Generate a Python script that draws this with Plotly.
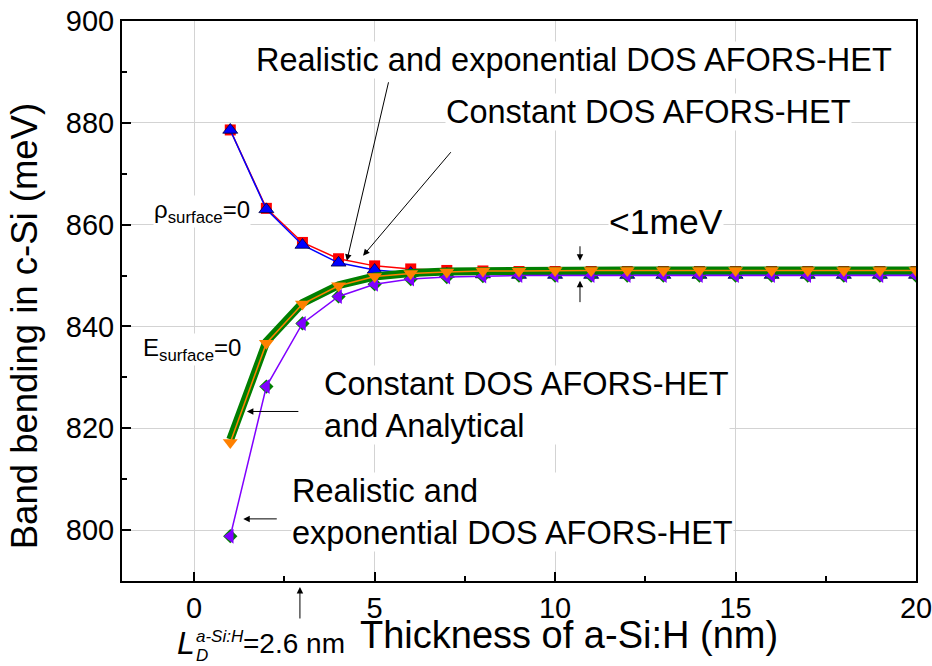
import plotly.graph_objects as go

# ---------------- data ----------------
thickness = [1, 2, 3, 4, 5, 6, 7, 8, 9, 10, 11, 12, 13, 14, 15, 16, 17, 18, 19, 20]

rho_realistic = [878.6, 863.2, 856.5, 853.3, 851.9, 851.3, 851.0, 850.9, 850.8, 850.8,
                 850.8, 850.8, 850.8, 850.8, 850.8, 850.8, 850.8, 850.8, 850.8, 850.8]
rho_constant = [878.6, 863.0, 856.0, 852.5, 851.1, 850.5, 850.3, 850.2, 850.1, 850.1,
                850.1, 850.1, 850.1, 850.1, 850.1, 850.1, 850.1, 850.1, 850.1, 850.1]
e_analytical = [817.8, 837.0, 844.6, 848.1, 849.8, 850.5, 850.8, 850.9, 851.0, 851.0,
                851.0, 851.0, 851.0, 851.0, 851.0, 851.0, 851.0, 851.0, 851.0, 851.0]
e_constant = [817.2, 836.7, 844.4, 848.0, 849.8, 850.4, 850.7, 850.9, 850.9, 851.0,
              851.0, 851.0, 851.0, 851.0, 851.0, 851.0, 851.0, 851.0, 851.0, 851.0]
e_realistic = [798.8, 828.2, 840.6, 845.9, 848.3, 849.3, 849.7, 849.9, 850.0, 850.0,
               850.0, 850.0, 850.0, 850.0, 850.0, 850.0, 850.0, 850.0, 850.0, 850.0]

x_ticks = [0, 5, 10, 15, 20]
y_ticks = [800, 820, 840, 860, 880, 900]

FONT = "Arial, Liberation Sans, sans-serif"

fig = go.Figure()

# rho_surface = 0 curves
fig.add_trace(go.Scatter(x=thickness, y=rho_realistic, mode="lines+markers",
                         line=dict(color="#ff0000", width=1.5),
                         marker=dict(symbol="square", size=11, color="#ff0000"),
                         showlegend=False))
fig.add_trace(go.Scatter(x=thickness, y=rho_constant, mode="lines+markers",
                         line=dict(color="#0000ff", width=1.5),
                         marker=dict(symbol="triangle-up", size=13, color="#0000ff",
                                     line=dict(color="#000040", width=0.8)),
                         showlegend=False))
# E_surface = 0 curves
fig.add_trace(go.Scatter(x=thickness, y=e_analytical, mode="lines",
                         line=dict(color="#007f00", width=8),
                         showlegend=False))
fig.add_trace(go.Scatter(x=thickness, y=e_realistic, mode="markers",
                         marker=dict(symbol="diamond", size=11, color="#008000"),
                         showlegend=False))
fig.add_trace(go.Scatter(x=thickness, y=e_realistic, mode="lines+markers",
                         line=dict(color="#8000ff", width=1.5),
                         marker=dict(symbol="triangle-left", size=13, color="#8000ff"),
                         showlegend=False))
fig.add_trace(go.Scatter(x=thickness, y=e_constant, mode="lines+markers",
                         line=dict(color="#ff8000", width=1.5),
                         marker=dict(symbol="triangle-down", size=13, color="#ff8000"),
                         showlegend=False))

ann = []

def text(x, y, t, size, xanchor="center", yanchor="middle", xref="x", yref="y", bg="white", align="center"):
    ann.append(dict(x=x, y=y, xref=xref, yref=yref, text=t, showarrow=False,
                    font=dict(family=FONT, size=size, color="black"),
                    xanchor=xanchor, yanchor=yanchor, bgcolor=bg, align=align,
                    borderpad=0))
    return ann[-1]

def arrow(x, y, ax, ay, xref="x", yref="y"):
    ann.append(dict(x=x, y=y, xref=xref, yref=yref, text="", showarrow=True,
                    ax=ax, ay=ay, arrowhead=2, arrowsize=1.3, arrowwidth=1,
                    arrowcolor="black", standoff=0, startstandoff=0))

text(10.53, 892.3, "Realistic and exponential DOS AFORS-HET", 32.5)
text(12.58, 882.2, "Constant DOS AFORS-HET", 32.5)
text(13.07, 860.6, "&lt;1meV", 35.5)
text(-1.14, 862.5, "ρ<sub>surface</sub>=0", 24, xanchor="left")
text(-1.44, 835.5, "E<sub>surface</sub>=0", 24, xanchor="left")
text(3.57, 824.5, "Constant DOS AFORS-HET<br>and Analytical", 32.5, xanchor="left", align="left")
text(2.69, 803.6, "Realistic and<br>exponential DOS AFORS-HET", 32.5, xanchor="left", align="left")

arrow(4.23, 852.9, 42, -180)
arrow(4.68, 853.9, 89, -105)
arrow(1.46, 823.3, 53, 0)
arrow(1.36, 802.2, 35, 0)
arrow(10.69, 852.9, 0, -16)
arrow(10.69, 849.0, 0, 23)
arrow(2.93, -0.0107, 0, 33, yref="paper")

# L_D^{a-Si:H} = 2.6 nm label (below the axis)
text(-0.22, -0.110, "<i>L</i>", 32, yref="paper", bg=None)
text(0.03, -0.099, "<i>a-Si:H</i>", 17, xanchor="left", yref="paper", bg=None)
text(0.03, -0.133, "<i>D</i>", 17, xanchor="left", yref="paper", bg=None)
text(1.33, -0.111, "=2.6 nm", 28, xanchor="left", yref="paper", bg=None)

# axis titles
a = text(-0.1234, 0.455, "Band bending in c-Si (meV)", 36.5, xref="paper", yref="paper", bg=None)
a["textangle"] = -90
text(0.563, -0.096, "Thickness of a-Si:H (nm)", 38, xref="paper", yref="paper", bg=None)

fig.update_layout(
    width=932, height=666,
    margin=dict(l=122, r=16, t=21, b=85),
    paper_bgcolor="white", plot_bgcolor="white",
    font=dict(family=FONT, size=29, color="black"),
    annotations=ann,
    showlegend=False,
)
common = dict(ticks="inside", ticklen=9, tickwidth=1.5, tickcolor="black",
              showline=True, linecolor="black", linewidth=2, mirror=True,
              showgrid=True, gridcolor="#d3d3d3", gridwidth=1, zeroline=False,
              automargin=False, tickfont=dict(size=29), ticklabeloverflow="allow")
fig.update_xaxes(range=[-2, 20], tickvals=x_ticks,
                 minor=dict(ticks="inside", ticklen=5, tickwidth=1.5, tickcolor="black", dtick=2.5,
                            showgrid=False, tick0=0), **common)
fig.update_yaxes(range=[790, 900], tickvals=y_ticks,
                 minor=dict(ticks="inside", ticklen=5, tickwidth=1.5, tickcolor="black", dtick=10,
                            showgrid=False, tick0=800), **common)

# remove the page's default 8px body margin so the figure fills the window exactly
fig.write_html("out.html", config={"displayModeBar": False},
               post_script="document.body.style.margin='0px';")
